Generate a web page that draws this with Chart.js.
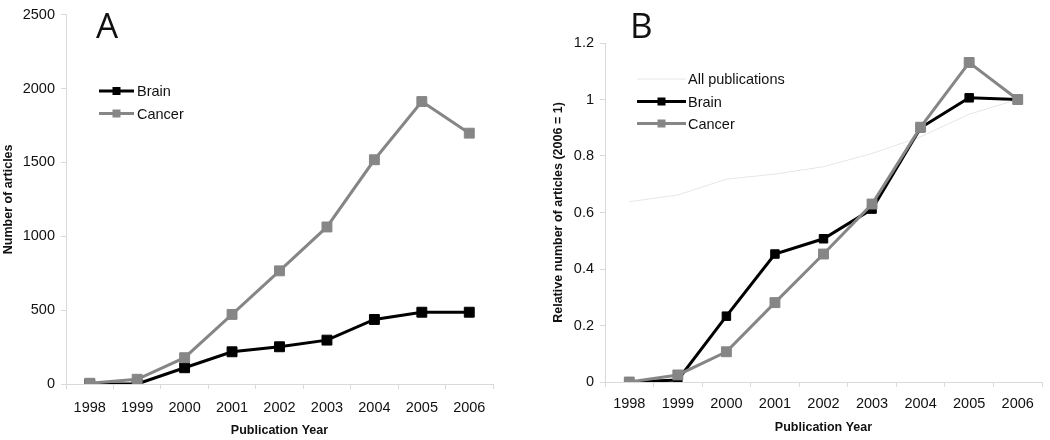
<!DOCTYPE html>
<html>
<head>
<meta charset="utf-8">
<script src="https://cdn.jsdelivr.net/npm/chart.js@4"></script>
<style>
    body { margin: 0; background: #fff; width: 1050px; height: 440px; position: relative; overflow: hidden; }
    .panel { position: absolute; top: 0; width: 520px; height: 440px; }
    #wrapA { left: 0; }
    #wrapB { left: 530px; }
</style>
</head>
<body>
<div class="panel" id="wrapA"><canvas id="chartA" width="520" height="440"></canvas></div>
<div class="panel" id="wrapB"><canvas id="chartB" width="520" height="440"></canvas></div>
<script>
// Data
const years = ['1998', '1999', '2000', '2001', '2002', '2003', '2004', '2005', '2006'];

// Panel A: number of articles
const brainCounts  = [0, 0, 110, 218, 252, 297, 437, 486, 486];
const cancerCounts = [5, 32, 178, 471, 766, 1063, 1518, 1912, 1698];
const countTicks = [0, 500, 1000, 1500, 2000, 2500];

// Panel B: relative number of articles (2006 = 1)
const allPubsRelative = [0.638, 0.662, 0.718, 0.736, 0.762, 0.809, 0.868, 0.948, 1.0];
const brainRelative   = [0, 0.007, 0.233, 0.453, 0.507, 0.612, 0.9, 1.006, 1.0];
const cancerRelative  = [0, 0.025, 0.107, 0.281, 0.453, 0.63, 0.902, 1.131, 1.0];
const relativeTicks = [0, 0.2, 0.4, 0.6, 0.8, 1, 1.2];

const FONT = '"Liberation Sans", Arial, sans-serif';
const axisGray = '#d9d9d9';
const textColor = '#111';
const brainColor = '#000000';
const cancerColor = '#868686';
const allPubsColor = '#e6e6e6';

// Draws the panel letter and the in-plot legend
const panelDecor = {
    id: 'panelDecor',
    afterDraw(chart, args, opts) {
        const ctx = chart.ctx;
        ctx.save();
        ctx.fillStyle = textColor;
        ctx.font = '35px "Open Sans", sans-serif';
        ctx.textBaseline = 'alphabetic';
        ctx.textAlign = 'left';
        ctx.fillText(opts.letter, opts.letterX, opts.letterY);

        opts.legend.forEach(item => {
            const ds = chart.data.datasets[item.index];
            ctx.strokeStyle = ds.borderColor;
            ctx.lineWidth = ds.borderWidth;
            ctx.beginPath();
            ctx.moveTo(opts.lineX0, item.y);
            ctx.lineTo(opts.lineX1, item.y);
            ctx.stroke();
            if (ds.pointRadius > 0) {
                const mid = (opts.lineX0 + opts.lineX1) / 2;
                ctx.fillStyle = ds.pointBackgroundColor;
                ctx.fillRect(mid - 4, item.y - 4, 8, 8);
            }
            ctx.fillStyle = textColor;
            ctx.font = '14.5px ' + FONT;
            ctx.textBaseline = 'middle';
            ctx.fillText(ds.label, opts.textX, item.y + 1);
        });
        ctx.restore();
    }
};

function lineDataset(label, data, color, width, radius, order) {
    return {
        label: label,
        data: data,
        borderColor: color,
        backgroundColor: color,
        borderWidth: width,
        pointStyle: 'rect',
        pointRadius: radius,
        pointHoverRadius: radius,
        pointBackgroundColor: color,
        pointBorderColor: color,
        pointBorderWidth: 1,
        tension: 0,
        fill: false,
        order: order
    };
}

function xScale(titlePad, labelPad, height) {
    return {
        offset: true,
        grid: { display: true, drawOnChartArea: false, tickLength: 5, color: axisGray, offset: true },
        border: { color: axisGray, width: 1 },
        ticks: { font: { size: 14.5, family: FONT }, color: textColor, padding: labelPad, maxRotation: 0, autoSkip: false },
        title: {
            display: true,
            text: 'Publication Year',
            font: { size: 12.5, weight: 'bold', family: FONT },
            color: textColor,
            padding: { top: 0, bottom: titlePad }
        },
        afterFit(scale) { scale.height = height; }
    };
}

function yScale(tickValues, title, titlePad, width) {
    return {
        min: tickValues[0],
        max: tickValues[tickValues.length - 1],
        afterBuildTicks(scale) { scale.ticks = tickValues.map(v => ({ value: v })); },
        grid: { display: true, drawOnChartArea: false, tickLength: 5, color: axisGray },
        border: { color: axisGray, width: 1 },
        ticks: {
            font: { size: 14.5, family: FONT },
            color: textColor,
            padding: 6,
            callback: value => String(value)
        },
        title: {
            display: true,
            text: title,
            font: { size: 12.5, weight: 'bold', family: FONT },
            color: textColor,
            padding: { top: titlePad, bottom: 0 }
        },
        afterFit(scale) { scale.width = width; }
    };
}

new Chart(document.getElementById('chartA').getContext('2d'), {
    type: 'line',
    data: {
        labels: years,
        datasets: [
            lineDataset('Brain', brainCounts, brainColor, 3, 7, 1),
            lineDataset('Cancer', cancerCounts, cancerColor, 3, 7, 0)
        ]
    },
    options: {
        responsive: false,
        animation: false,
        layout: { padding: { top: 14, right: 27, left: 0, bottom: 0 } },
        scales: {
            x: xScale(1.5, 10, 56),
            y: yScale(countTicks, 'Number of articles', 1.5, 66)
        },
        plugins: {
            legend: { display: false },
            tooltip: { enabled: false },
            panelDecor: {
                letter: 'A', letterX: 96, letterY: 38,
                lineX0: 99, lineX1: 134, textX: 137,
                legend: [{ index: 0, y: 91 }, { index: 1, y: 113.5 }]
            }
        }
    },
    plugins: [panelDecor]
});

new Chart(document.getElementById('chartB').getContext('2d'), {
    type: 'line',
    data: {
        labels: years,
        datasets: [
            lineDataset('All publications', allPubsRelative, allPubsColor, 1, 0, 2),
            lineDataset('Brain', brainRelative, brainColor, 3, 6, 1),
            lineDataset('Cancer', cancerRelative, cancerColor, 3, 7, 0)
        ]
    },
    options: {
        responsive: false,
        animation: false,
        layout: { padding: { top: 43, right: 4, left: 0, bottom: 0 } },
        scales: {
            x: xScale(4.5, 8, 58),
            y: yScale(relativeTicks, 'Relative number of articles (2006 = 1)', 21.5, 75)
        },
        plugins: {
            legend: { display: false },
            tooltip: { enabled: false },
            panelDecor: {
                letter: 'B', letterX: 100, letterY: 38,
                lineX0: 107, lineX1: 156, textX: 158,
                legend: [{ index: 0, y: 79 }, { index: 1, y: 101.5 }, { index: 2, y: 123.5 }]
            }
        }
    },
    plugins: [panelDecor]
});
</script>
</body>
</html>
